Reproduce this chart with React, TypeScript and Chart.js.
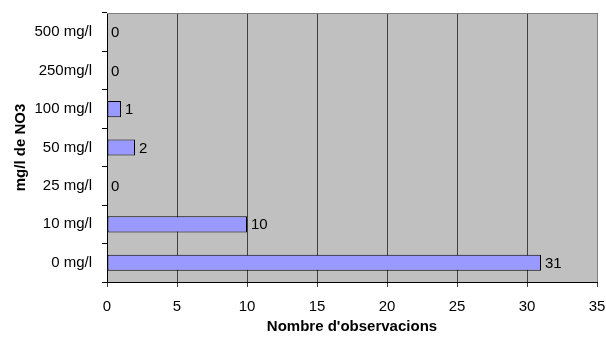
import React, { useEffect, useRef } from "react";
import { Chart, registerables } from "chart.js";

Chart.register(...registerables);

// Top-to-bottom order as displayed
const categories = ["500 mg/l", "250mg/l", "100 mg/l", "50 mg/l", "25 mg/l", "10 mg/l", "0 mg/l"];
const observations = [0, 0, 1, 2, 0, 10, 31];
const xTicks = [0, 5, 10, 15, 20, 25, 30, 35];
const xTitle = "Nombre d'observacions";
const yTitle = "mg/l de NO3";

const FONT = "Arial, 'Liberation Sans', sans-serif";
const FS = 15;

const plotBg = {
  id: "plotBg",
  beforeDraw(chart: any) {
    const { ctx, chartArea: a } = chart;
    ctx.save();
    ctx.fillStyle = "#C0C0C0";
    ctx.fillRect(a.left, a.top, a.right - a.left, a.bottom - a.top);
    ctx.restore();
  },
  afterDraw(chart: any) {
    const { ctx, chartArea: a } = chart;
    ctx.save();
    ctx.strokeStyle = "#808080";
    ctx.lineWidth = 1;
    ctx.beginPath();
    ctx.moveTo(a.left, a.top + 0.5);
    ctx.lineTo(a.right + 0.5, a.top + 0.5);
    ctx.lineTo(a.right + 0.5, a.bottom);
    ctx.stroke();
    ctx.restore();
  },
};

const valueLabels = {
  id: "valueLabels",
  afterDatasetsDraw(chart: any) {
    const { ctx } = chart;
    const meta = chart.getDatasetMeta(0);
    const data = chart.data.datasets[0].data;
    ctx.save();
    ctx.fillStyle = "#000";
    ctx.font = `${FS}px ${FONT}`;
    ctx.textAlign = "left";
    ctx.textBaseline = "middle";
    meta.data.forEach((el: any, i: number) => {
      ctx.fillText(String(data[i]), el.x + 4, el.y + 1);
    });
    ctx.restore();
  },
};

export default function App() {
  const ref = useRef<HTMLCanvasElement>(null);
  useEffect(() => {
    const chart = new Chart(ref.current!, {
      type: "bar",
      data: {
        labels: categories,
        datasets: [
          {
            data: observations,
            backgroundColor: "#9999FF",
            borderColor: "#000",
            borderWidth: (c: any) => (c.raw === 0 ? 0 : 1),
            borderSkipped: false,
            categoryPercentage: 0.84,
            barPercentage: 0.5,
          },
        ],
      },
      options: {
        indexAxis: "y",
        animation: false,
        responsive: true,
        maintainAspectRatio: false,
        layout: { padding: { top: 13, right: 9, left: 0, bottom: 0 } },
        plugins: { legend: { display: false }, tooltip: { enabled: false } },
        scales: {
          x: {
            type: "linear",
            min: 0,
            max: 35,
            afterBuildTicks: (s: any) => {
              s.ticks = xTicks.map((v) => ({ value: v }));
            },
            afterFit: (s: any) => {
              s.height = 56;
              s.paddingLeft = 0;
              s.paddingRight = 0;
            },
            grid: {
              color: "#404040",
              lineWidth: 1,
              tickLength: 5,
              tickColor: "#404040",
            },
            border: { color: "#000", width: 1 },
            ticks: { color: "#000", font: { family: FONT, size: FS }, padding: 11 },
            title: {
              display: true,
              text: xTitle,
              color: "#000",
              font: { family: FONT, size: FS, weight: "bold" },
              padding: { top: 0, bottom: 2 },
            },
          },
          y: {
            type: "category",
            afterFit: (s: any) => {
              s.width = 107;
              s.paddingTop = 0;
              s.paddingBottom = 0;
            },
            grid: {
              offset: true,
              drawOnChartArea: false,
              tickLength: 5,
              tickColor: "#000",
            },
            border: { color: "#000", width: 1 },
            ticks: { color: "#000", font: { family: FONT, size: FS }, padding: 10 },
            title: {
              display: true,
              text: yTitle,
              color: "#000",
              font: { family: FONT, size: FS, weight: "bold" },
              padding: { top: 12, bottom: 0 },
            },
          },
        },
      },
      plugins: [plotBg, valueLabels],
    } as any);
    return () => chart.destroy();
  }, []);
  return (
    <div style={{ position: "absolute", left: 0, top: 0, width: 606, height: 338, background: "#fff" }}>
      <canvas ref={ref} />
    </div>
  );
}
